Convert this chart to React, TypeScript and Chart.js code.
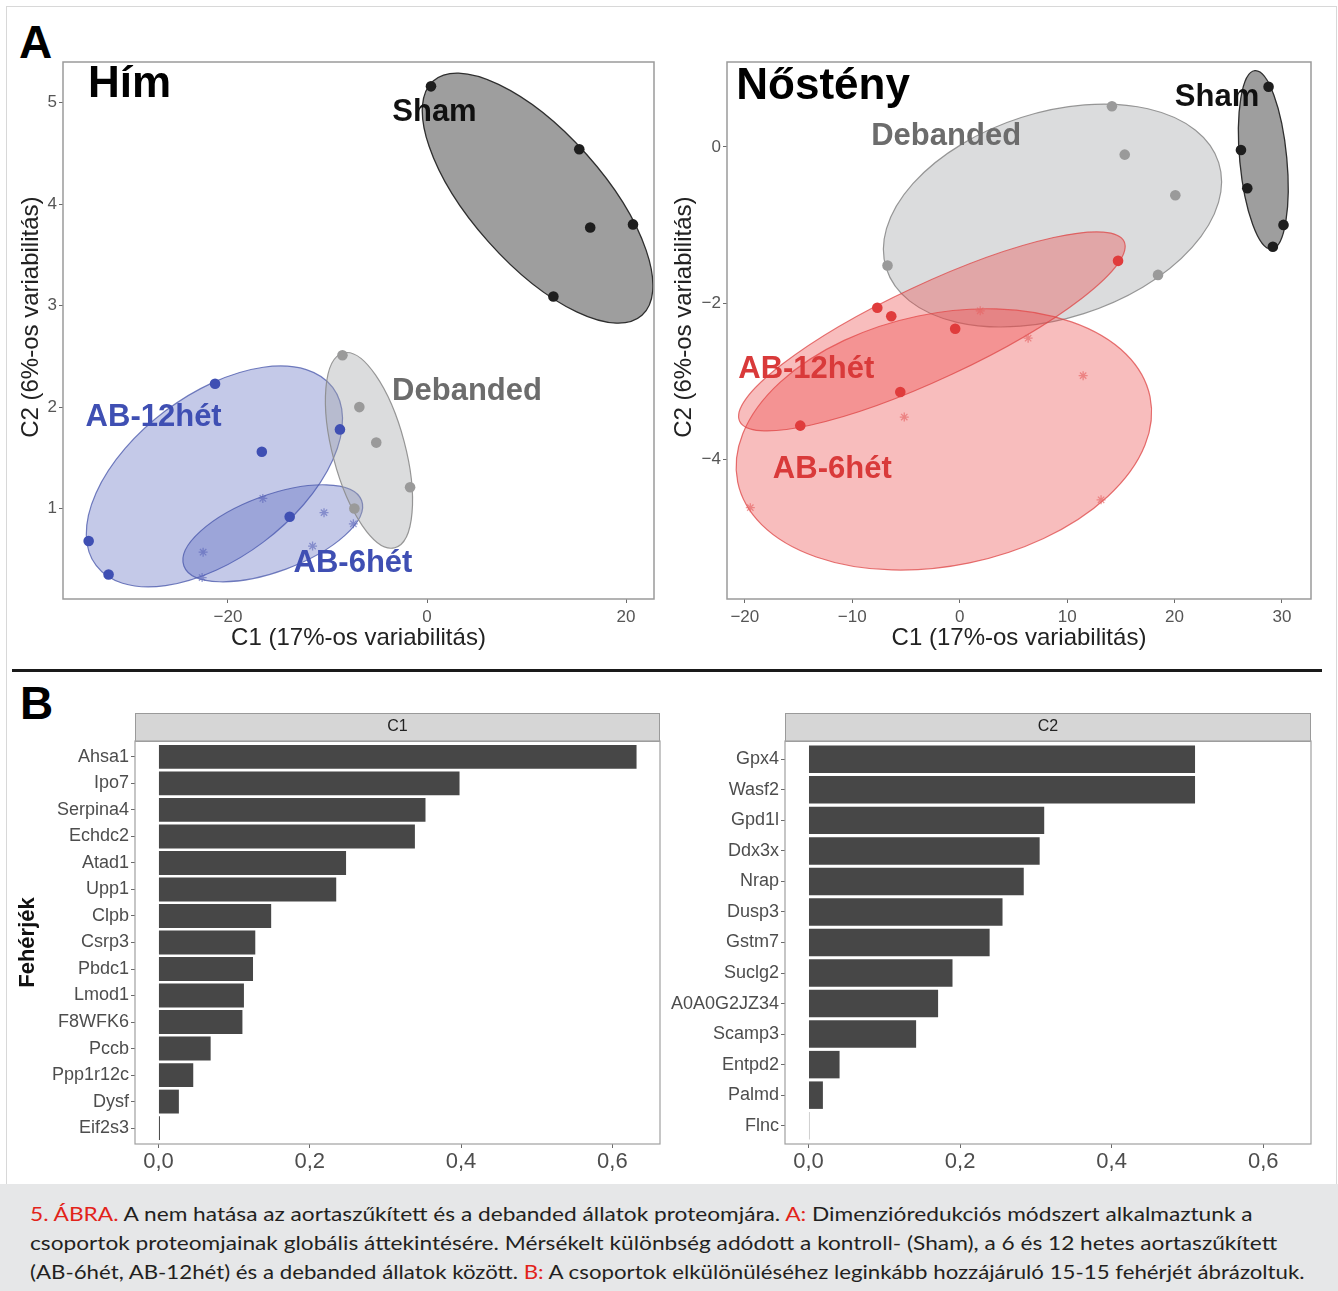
import React, { useEffect, useLayoutEffect, useRef } from "react";
import { Chart, registerables } from "chart.js";

Chart.register(...registerables);

const FONT = "'Liberation Sans', Arial, Helvetica, sans-serif";
Chart.defaults.font.family = FONT;

// ---------------- Panel A: Hím (male) ----------------
const himShamX = [0.4, 15.3, 16.4, 20.7, 12.7];
const himShamY = [5.16, 4.54, 3.77, 3.8, 3.09];
const himDebX = [-8.5, -6.8, -5.1, -1.7, -7.3];
const himDebY = [2.51, 2.0, 1.65, 1.21, 1.0];
const himAB12X = [-21.3, -16.6, -8.75, -13.8, -34.0, -32.0];
const himAB12Y = [2.23, 1.56, 1.78, 0.92, 0.68, 0.35];
const himAB6X = [-16.5, -10.35, -22.5, -11.5, -22.6, -7.4];
const himAB6Y = [1.1, 0.96, 0.57, 0.63, 0.32, 0.85];
const himXTicks = [-20, 0, 20];
const himYTicks = [1, 2, 3, 4, 5];

// ---------------- Panel A: Nőstény (female) ----------------
const noShamX = [28.75, 26.18, 26.77, 30.14, 29.15];
const noShamY = [0.77, -0.04, -0.53, -1.0, -1.28];
const noDebX = [14.17, 15.36, 20.07, -6.72, 18.46];
const noDebY = [0.52, -0.1, -0.62, -1.52, -1.64];
const noAB12X = [-7.67, -6.37, -0.42, -5.53, -14.84, 14.74];
const noAB12Y = [-2.06, -2.17, -2.33, -3.14, -3.57, -1.46];
const noAB6X = [1.91, 6.37, 11.49, -5.16, -19.49, 13.16];
const noAB6Y = [-2.1, -2.45, -2.93, -3.46, -4.62, -4.52];
const noXTicks = [-20, -10, 0, 10, 20, 30];
const noYTicks = [-4, -2, 0];

// ---------------- Panel B ----------------
const c1Proteins = ["Ahsa1", "Ipo7", "Serpina4", "Echdc2", "Atad1", "Upp1", "Clpb", "Csrp3", "Pbdc1", "Lmod1", "F8WFK6", "Pccb", "Ppp1r12c", "Dysf", "Eif2s3"];
const c1Values = [0.632, 0.398, 0.353, 0.339, 0.248, 0.235, 0.149, 0.128, 0.125, 0.113, 0.111, 0.069, 0.046, 0.027, 0.002];
const c2Proteins = ["Gpx4", "Wasf2", "Gpd1l", "Ddx3x", "Nrap", "Dusp3", "Gstm7", "Suclg2", "A0A0G2JZ34", "Scamp3", "Entpd2", "Palmd", "Flnc"];
const c2Values = [0.51, 0.51, 0.311, 0.305, 0.284, 0.256, 0.239, 0.19, 0.171, 0.142, 0.041, 0.019, 0.001];
const barTicks = [0, 0.2, 0.4, 0.6];

// ---------------- Styles ----------------
const SHAM = { point: "#1e1e1e", fill: "rgba(40,40,40,0.45)", stroke: "#2e2e2e", label: "#111111" };
const DEB = { point: "#9a9a9a", fill: "rgba(160,162,165,0.38)", stroke: "rgba(140,140,140,0.9)", label: "#6c6c6c" };
const BLUE = { point: "#3f4fb3", star: "rgba(90,100,185,0.6)", fill: "rgba(72,86,184,0.32)", stroke: "rgba(70,84,170,0.75)", label: "#3f4fb3" };
const RED = { point: "#e03c3c", star: "rgba(230,100,100,0.65)", fill: "rgba(236,72,72,0.36)", stroke: "rgba(222,70,70,0.75)", label: "#d93a3a" };

type Group = { xs: number[]; ys: number[]; point: string; star?: boolean; fill: string; stroke: string; lw: number };
type Label = { text: string; x: number; y: number; color: string; size: number; align?: CanvasTextAlign };

function inv3(m: number[][]) {
  const [a, b, c] = m[0];
  const [d, e, f] = m[1];
  const [g, h, i] = m[2];
  const A = e * i - f * h, B = -(d * i - f * g), C = d * h - e * g;
  const det = a * A + b * B + c * C;
  return [
    [A / det, -(b * i - c * h) / det, (b * f - c * e) / det],
    [B / det, (a * i - c * g) / det, -(a * f - c * d) / det],
    [C / det, -(a * h - b * g) / det, (a * e - b * d) / det],
  ];
}

// Minimum-volume enclosing ellipse (Khachiyan), in pixel space
function mvee(pts: number[][]) {
  const n = pts.length;
  let mx = 0, my = 0;
  pts.forEach((p) => { mx += p[0]; my += p[1]; });
  mx /= n; my /= n;
  const P = pts.map((p) => [p[0] - mx, p[1] - my]);
  let u = new Array(n).fill(1 / n);
  for (let it = 0; it < 20000; it++) {
    const X = [[0, 0, 0], [0, 0, 0], [0, 0, 0]];
    for (let k = 0; k < n; k++) {
      const q = [P[k][0], P[k][1], 1];
      for (let a = 0; a < 3; a++) for (let b = 0; b < 3; b++) X[a][b] += u[k] * q[a] * q[b];
    }
    const Xi = inv3(X);
    let best = -Infinity, j = 0;
    for (let k = 0; k < n; k++) {
      const q = [P[k][0], P[k][1], 1];
      let m = 0;
      for (let a = 0; a < 3; a++) for (let b = 0; b < 3; b++) m += q[a] * Xi[a][b] * q[b];
      if (m > best) { best = m; j = k; }
    }
    const step = (best - 3) / (3 * (best - 1));
    if (step < 1e-8) break;
    u = u.map((v) => v * (1 - step));
    u[j] += step;
  }
  let cx = 0, cy = 0;
  for (let k = 0; k < n; k++) { cx += u[k] * P[k][0]; cy += u[k] * P[k][1]; }
  let sxx = 0, sxy = 0, syy = 0;
  for (let k = 0; k < n; k++) {
    const dx = P[k][0] - cx, dy = P[k][1] - cy;
    sxx += u[k] * dx * dx; sxy += u[k] * dx * dy; syy += u[k] * dy * dy;
  }
  const tr = (sxx + syy) / 2;
  const dd = Math.sqrt(((sxx - syy) / 2) ** 2 + sxy * sxy);
  const l1 = tr + dd, l2 = Math.max(tr - dd, 1e-9);
  const angle = 0.5 * Math.atan2(2 * sxy, sxx - syy);
  return { cx: cx + mx, cy: cy + my, r1: Math.sqrt(2 * l1), r2: Math.sqrt(2 * l2), angle };
}

function ellipsePlugin(groups: Group[], expand: number) {
  return {
    id: "ellipses",
    beforeDatasetsDraw(chart: any) {
      const { ctx, chartArea, scales } = chart;
      ctx.save();
      ctx.beginPath();
      ctx.rect(chartArea.left, chartArea.top, chartArea.right - chartArea.left, chartArea.bottom - chartArea.top);
      ctx.clip();
      for (const g of groups) {
        const pts = g.xs.map((v, i) => [scales.x.getPixelForValue(v), scales.y.getPixelForValue(g.ys[i])]);
        const e = mvee(pts);
        ctx.beginPath();
        ctx.ellipse(e.cx, e.cy, e.r1 + expand, e.r2 + expand, e.angle, 0, Math.PI * 2);
        ctx.fillStyle = g.fill;
        ctx.fill();
        ctx.lineWidth = g.lw;
        ctx.strokeStyle = g.stroke;
        ctx.stroke();
      }
      ctx.restore();
    },
  };
}

function labelPlugin(labels: Label[]) {
  return {
    id: "labels",
    afterDatasetsDraw(chart: any) {
      const { ctx, scales } = chart;
      ctx.save();
      for (const l of labels) {
        ctx.font = `bold ${l.size}px ${FONT}`;
        ctx.fillStyle = l.color;
        ctx.textAlign = l.align || "center";
        ctx.textBaseline = "middle";
        ctx.fillText(l.text, scales.x.getPixelForValue(l.x), scales.y.getPixelForValue(l.y));
      }
      ctx.restore();
    },
  };
}

function framePlugin(strip?: string) {
  return {
    id: "frame",
    afterDraw(chart: any) {
      const { ctx, chartArea: a } = chart;
      ctx.save();
      if (strip) {
        ctx.fillStyle = "#d6d6d6";
        ctx.fillRect(a.left, a.top - 28, a.right - a.left, 28);
        ctx.strokeStyle = "#9a9a9a";
        ctx.lineWidth = 1;
        ctx.strokeRect(a.left + 0.5, a.top - 28 + 0.5, a.right - a.left - 1, 28);
        ctx.fillStyle = "#222";
        ctx.font = `16px ${FONT}`;
        ctx.textAlign = "center";
        ctx.textBaseline = "middle";
        ctx.fillText(strip, (a.left + a.right) / 2, a.top - 14);
      }
      ctx.strokeStyle = strip ? "#a0a0a0" : "#9a9a9a";
      ctx.lineWidth = strip ? 1.2 : 1.5;
      ctx.strokeRect(a.left, a.top, a.right - a.left, a.bottom - a.top);
      ctx.restore();
    },
  };
}

const fmtNum = (v: number) => (v < 0 ? "\u2212" + Math.abs(v) : String(v));
const fmtComma = (v: number) => v.toFixed(1).replace(".", ",");

const tickGrid = { display: true, drawOnChartArea: false, drawTicks: true, tickLength: 4, color: "#6a6a6a", lineWidth: 1, offset: false };

function scatterConfig(p: {
  groups: Group[]; labels: Label[]; xMin: number; xMax: number; yMin: number; yMax: number;
  xTicks: number[]; yTicks: number[]; yAxisWidth: number; padRight: number; yTitlePad: number;
}) {
  return {
    type: "scatter",
    data: {
      datasets: p.groups.map((g) => ({
        data: g.xs.map((x, i) => ({ x, y: g.ys[i] })),
        pointStyle: g.star ? "star" : "circle",
        pointRadius: g.star ? 4.5 : 5.3,
        backgroundColor: g.point,
        borderColor: g.point,
        borderWidth: g.star ? 1.3 : 0,
      })),
    },
    options: {
      animation: false,
      responsive: false,
      events: [],
      layout: { padding: { top: 22, right: p.padRight, left: 0, bottom: 0 } },
      plugins: { legend: { display: false }, tooltip: { enabled: false } },
      scales: {
        x: {
          type: "linear", min: p.xMin, max: p.xMax,
          afterBuildTicks: (s: any) => { s.ticks = p.xTicks.map((v) => ({ value: v })); },
          afterFit: (s: any) => { s.height = 65; },
          grid: tickGrid, border: { display: false },
          ticks: { color: "#555", font: { size: 17 }, padding: 4, maxRotation: 0, autoSkip: false, callback: (v: number) => fmtNum(v) },
          title: { display: true, text: "C1 (17%-os variabilitás)", color: "#222", font: { size: 24 }, padding: { top: 0, bottom: 11 } },
        },
        y: {
          type: "linear", min: p.yMin, max: p.yMax,
          afterBuildTicks: (s: any) => { s.ticks = p.yTicks.map((v) => ({ value: v })); },
          afterFit: (s: any) => { s.width = p.yAxisWidth; },
          grid: tickGrid, border: { display: false },
          ticks: { color: "#555", font: { size: 17 }, padding: 2, autoSkip: false, callback: (v: number) => fmtNum(v) },
          title: { display: true, text: "    C2 (6%-os variabilitás)", color: "#222", font: { size: 24 }, padding: { top: p.yTitlePad, bottom: 0 } },
        },
      },
    },
    plugins: [ellipsePlugin(p.groups, 2), labelPlugin(p.labels), framePlugin()],
  };
}

function barConfig(names: string[], values: number[], strip: string, yAxisWidth: number, padRight: number, showTitle: boolean) {
  const n = names.length;
  return {
    type: "bar",
    data: {
      datasets: [{
        data: values.map((v, i) => ({ x: v, y: i })),
        backgroundColor: "#474747",
        borderWidth: 0,
        barPercentage: 0.9,
        categoryPercentage: 1,
      }],
    },
    options: {
      indexAxis: "y",
      animation: false,
      responsive: false,
      events: [],
      layout: { padding: { top: 41, right: padRight, left: 0, bottom: 0 } },
      plugins: { legend: { display: false }, tooltip: { enabled: false } },
      scales: {
        x: {
          type: "linear", min: -0.031, max: 0.663, offset: false,
          afterBuildTicks: (s: any) => { s.ticks = barTicks.map((v) => ({ value: v })); },
          afterFit: (s: any) => { s.height = 38; },
          grid: tickGrid, border: { display: false },
          ticks: { color: "#4d4d4d", font: { size: 22 }, padding: 1, maxRotation: 0, autoSkip: false, callback: (v: number) => fmtComma(v) },
        },
        y: {
          type: "linear", min: -0.6, max: n - 1 + 0.6, reverse: true, offset: false,
          afterBuildTicks: (s: any) => { s.ticks = names.map((_, i) => ({ value: i })); },
          afterFit: (s: any) => { s.width = yAxisWidth; },
          grid: tickGrid, border: { display: false },
          ticks: { color: "#4d4d4d", font: { size: 18 }, padding: 2, autoSkip: false, callback: (v: number) => names[v] },
          title: { display: showTitle, text: "Fehérjék", color: "#111", font: { size: 22, weight: "bold" }, padding: { top: 15, bottom: 0 } },
        },
      },
    },
    plugins: [framePlugin(strip)],
  };
}

function ChartCanvas({ left, top, width, height, config }: { left: number; top: number; width: number; height: number; config: () => any }) {
  const ref = useRef<HTMLCanvasElement>(null);
  useEffect(() => {
    const chart = new Chart(ref.current as HTMLCanvasElement, config());
    return () => chart.destroy();
  }, []);
  return (
    <canvas ref={ref} width={width} height={height}
      style={{ position: "absolute", left, top, width, height }} />
  );
}

function FitLine({ top, width, children }: { top: number; width: number; children: React.ReactNode }) {
  const ref = useRef<HTMLDivElement>(null);
  useLayoutEffect(() => {
    const fit = () => {
      const el = ref.current;
      if (!el) return;
      el.style.transform = "none";
      const w = el.offsetWidth;
      el.style.transform = `scaleX(${width / w})`;
    };
    fit();
    (document as any).fonts?.ready?.then(fit);
  }, []);
  return (
    <div ref={ref} style={{
      position: "absolute", left: 30, top, whiteSpace: "nowrap", transformOrigin: "0 0",
      fontFamily: "Lato, 'Liberation Sans', sans-serif", fontSize: 20, lineHeight: "24px", color: "#231f20",
    }}>{children}</div>
  );
}

const R = ({ children }: { children: React.ReactNode }) => <span style={{ color: "#e2231a" }}>{children}</span>;

export default function App() {
  useEffect(() => { document.body.style.margin = "0"; }, []);

  const himGroups: Group[] = [
    { xs: himAB12X, ys: himAB12Y, point: BLUE.point, fill: BLUE.fill, stroke: BLUE.stroke, lw: 1.2 },
    { xs: himAB6X, ys: himAB6Y, point: BLUE.star, star: true, fill: BLUE.fill, stroke: BLUE.stroke, lw: 1.2 },
    { xs: himDebX, ys: himDebY, point: DEB.point, fill: DEB.fill, stroke: DEB.stroke, lw: 1.2 },
    { xs: himShamX, ys: himShamY, point: SHAM.point, fill: SHAM.fill, stroke: SHAM.stroke, lw: 1.3 },
  ];
  const himLabels: Label[] = [
    { text: "Hím", x: -34.07, y: 5.17, color: "#000", size: 44, align: "left" },
    { text: "Sham", x: 0.75, y: 4.9, color: SHAM.label, size: 31 },
    { text: "Debanded", x: 4.02, y: 2.15, color: DEB.label, size: 31 },
    { text: "AB-12hét", x: -27.47, y: 1.9, color: BLUE.label, size: 31 },
    { text: "AB-6hét", x: -7.44, y: 0.455, color: BLUE.label, size: 31 },
  ];
  const noGroups: Group[] = [
    { xs: noDebX, ys: noDebY, point: DEB.point, fill: DEB.fill, stroke: DEB.stroke, lw: 1.2 },
    { xs: noAB6X, ys: noAB6Y, point: RED.star, star: true, fill: RED.fill, stroke: RED.stroke, lw: 1.2 },
    { xs: noAB12X, ys: noAB12Y, point: RED.point, fill: RED.fill, stroke: RED.stroke, lw: 1.2 },
    { xs: noShamX, ys: noShamY, point: SHAM.point, fill: SHAM.fill, stroke: SHAM.stroke, lw: 1.3 },
  ];
  const noLabels: Label[] = [
    { text: "Nőstény", x: -20.79, y: 0.772, color: "#000", size: 44, align: "left" },
    { text: "Sham", x: 23.95, y: 0.631, color: SHAM.label, size: 31 },
    { text: "Debanded", x: -1.26, y: 0.132, color: DEB.label, size: 31 },
    { text: "AB-12hét", x: -14.28, y: -2.845, color: RED.label, size: 31 },
    { text: "AB-6hét", x: -11.86, y: -4.125, color: RED.label, size: 31 },
  ];

  return (
    <div style={{ position: "absolute", left: 0, top: 0, width: 1338, height: 1291, background: "#fff", overflow: "hidden", fontFamily: FONT }}>
      <div style={{ position: "absolute", left: 6, top: 6, width: 1329, height: 1177, border: "1px solid #d8d8d8" }} />
      <div style={{ position: "absolute", left: 19, top: 19, fontSize: 46, lineHeight: "46px", fontWeight: "bold", color: "#000" }}>A</div>
      <div style={{ position: "absolute", left: 20, top: 680, fontSize: 46, lineHeight: "46px", fontWeight: "bold", color: "#000" }}>B</div>
      <div style={{ position: "absolute", left: 12, top: 669, width: 1310, height: 3, background: "#1a1a1a" }} />

      <ChartCanvas left={0} top={40} width={670} height={624}
        config={() => scatterConfig({
          groups: himGroups, labels: himLabels, xMin: -36.58, xMax: 22.81, yMin: 0.109, yMax: 5.4,
          xTicks: himXTicks, yTicks: himYTicks, yAxisWidth: 63, padRight: 16, yTitlePad: 17,
        })} />
      <ChartCanvas left={670} top={40} width={668} height={624}
        config={() => scatterConfig({
          groups: noGroups, labels: noLabels, xMin: -21.66, xMax: 32.7, yMin: -5.79, yMax: 1.086,
          xTicks: noXTicks, yTicks: noYTicks, yAxisWidth: 57, padRight: 27, yTitlePad: 0,
        })} />

      <ChartCanvas left={0} top={700} width={670} height={482}
        config={() => barConfig(c1Proteins, c1Values, "C1", 135, 10, true)} />
      <ChartCanvas left={640} top={700} width={698} height={482}
        config={() => barConfig(c2Proteins, c2Values, "C2", 145, 27, false)} />

      <div style={{ position: "absolute", left: 0, top: 1184, width: 1338, height: 107, background: "#e6e7e8" }} />
      <FitLine top={1201} width={1223}>
        <R>5. ÁBRA.</R> A nem hatása az aortaszűkített és a debanded állatok proteomjára. <R>A:</R> Dimenzióredukciós módszert alkalmaztunk a
      </FitLine>
      <FitLine top={1230} width={1247}>
        csoportok proteomjainak globális áttekintésére. Mérsékelt különbség adódott a kontroll- (Sham), a 6 és 12 hetes aortaszűkített
      </FitLine>
      <FitLine top={1259} width={1275}>
        (AB-6hét, AB-12hét) és a debanded állatok között. <R>B:</R> A csoportok elkülönüléséhez leginkább hozzájáruló 15-15 fehérjét ábrázoltuk.
      </FitLine>
    </div>
  );
}
